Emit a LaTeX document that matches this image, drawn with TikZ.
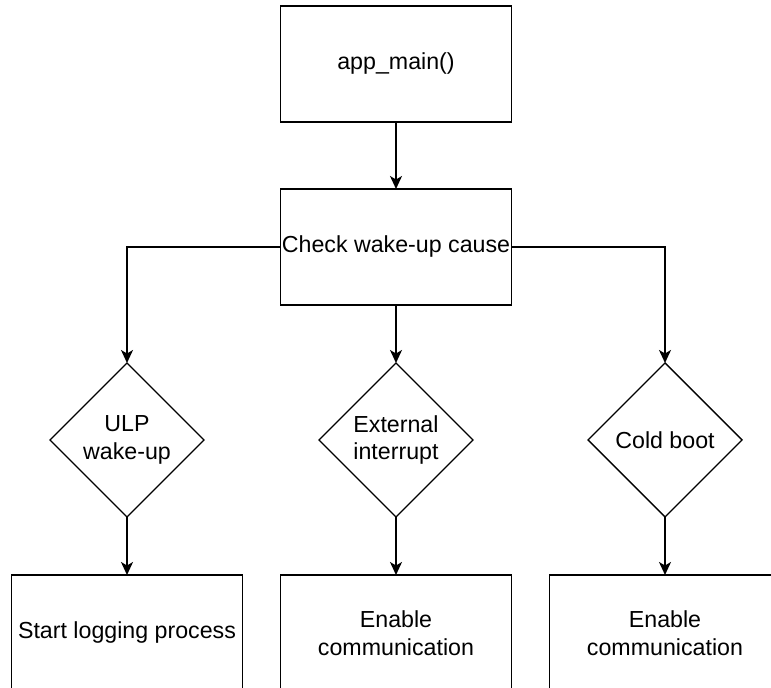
\documentclass[tikz,border=0pt]{standalone}
\usepackage{fontspec}
\setmainfont{Liberation Sans}
\usetikzlibrary{arrows.meta,positioning,shapes.geometric}
\tikzset{
    %Define standard arrow tip
    >={Stealth[length=13pt,width=12pt,inset=3.5pt]},
    %Define style for boxes
    stepbox/.style={
           rectangle,
           draw=black, line width=1.6pt,
           minimum width=231pt,
           minimum height=116pt,
           inner sep=0pt, outer sep=0pt,
           align=center},
    choice/.style={
           diamond, aspect=1,
           draw=black, line width=1.4pt,
           minimum size=154pt,
           inner sep=0pt, outer sep=0pt,
           align=center},
    % Define arrow style
    pil/.style={
           ->,
           line width=1.6pt}
}
\begin{document}
\begin{tikzpicture}[x=1pt,y=1pt,font=\fontsize{23.2}{27.5}\selectfont]
\path[use as bounding box, clip] (0,0) rectangle (771,688);

 %nodes
\node[stepbox] (app) at (396,624) {app\_main()};
\node[stepbox, below=67pt of app] (check) {Check wake-up cause};
\node[choice, below=58pt of check] (ext) {External\\interrupt};
\node[choice, left=115pt of ext] (ulp) {ULP\\wake-up};
\node[choice, right=115pt of ext] (cold) {Cold boot};
\node[stepbox, below=58pt of ulp] (log) {Start logging process};
\node[stepbox, below=58pt of ext] (commext) {Enable\\communication};
\node[stepbox, below=58pt of cold] (commcold) {Enable\\communication};

 %arrows
\draw[pil] (app) -- (check);
\draw[pil] (check.west) -| (ulp.north);
\draw[pil] (check) -- (ext);
\draw[pil] (check.east) -| (cold.north);
\draw[pil] (ulp) -- (log);
\draw[pil] (ext) -- (commext);
\draw[pil] (cold) -- (commcold);
\end{tikzpicture}
\end{document}
